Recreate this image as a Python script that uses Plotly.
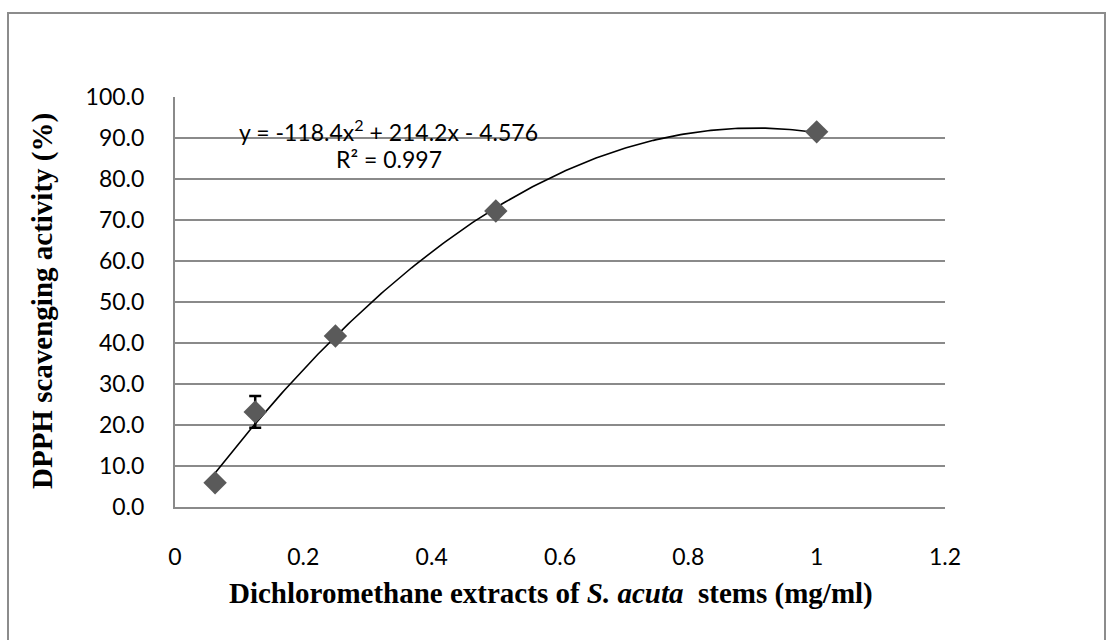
import numpy as np
import plotly.graph_objects as go

# Data
conc = [0.0625, 0.125, 0.25, 0.5, 1.0]
activity = [5.9, 23.2, 41.7, 72.2, 91.5]
err = [0.0, 3.9, 0.0, 0.0, 0.0]
x_ticks = [0, 0.2, 0.4, 0.6, 0.8, 1.0, 1.2]
x_ticktext = ["0", "0.2", "0.4", "0.6", "0.8", "1", "1.2"]
y_ticks = [0, 10, 20, 30, 40, 50, 60, 70, 80, 90, 100]

W, H = 1114, 640
L, R, T, B = 175, 945, 97, 507

coef = np.polyfit(conc, activity, 2)
xf = np.linspace(min(conc), max(conc), 200)
yf = np.polyval(coef, xf)

fig = go.Figure()
fig.add_trace(go.Scatter(x=xf, y=yf, mode="lines",
                         line=dict(color="black", width=1.6), hoverinfo="skip", showlegend=False))
fig.add_trace(go.Scatter(x=conc, y=activity, mode="markers",
                         marker=dict(symbol="diamond", size=18, color="#5a5a5a"),
                         error_y=dict(type="data", array=err, visible=True, color="black",
                                      thickness=2.5, width=6),
                         showlegend=False))

def px(xp):
    return (xp - L) / (R - L)

def py(yp):
    return (B - yp) / (B - T)

grid = "#8a8a8a"
tickfont = dict(family="Lato", size=23, color="black")
fig.update_layout(
    width=W, height=H,
    margin=dict(l=L, r=W - R, t=T, b=H - B, autoexpand=False),
    plot_bgcolor="white", paper_bgcolor="white",
    font=dict(family="Lato", size=23, color="black"),
    xaxis=dict(range=[0, 1.2], tickvals=x_ticks, ticktext=x_ticktext, showgrid=False,
               zeroline=False, showline=True, linecolor=grid, linewidth=2,
               ticks="outside", ticklen=28,
               tickcolor="rgba(0,0,0,0)", tickfont=tickfont),
    yaxis=dict(range=[0, 100], tickvals=y_ticks, tickformat=".1f", showgrid=True,
               gridcolor=grid, gridwidth=2, zeroline=False, showline=True,
               linecolor=grid, linewidth=2, ticks="outside", ticklen=24,
               tickcolor="rgba(0,0,0,0)", tickfont=tickfont),
    shapes=[dict(type="rect", xref="paper", yref="paper",
                 x0=px(8), x1=px(1105), y0=py(700), y1=py(13),
                 line=dict(color="#8c8c8c", width=2), layer="below")],
    annotations=[
        dict(text="y = -118.4x<sup>2</sup> + 214.2x - 4.576", xref="paper", yref="paper",
             x=px(388), y=py(130), showarrow=False, xanchor="center", yanchor="middle",
             font=dict(family="Lato", size=23)),
        dict(text="R² = 0.997", xref="paper", yref="paper",
             x=px(389), y=py(159), showarrow=False, xanchor="center", yanchor="middle",
             font=dict(family="Lato", size=23)),
        dict(text="<b>DPPH scavenging activity (%)</b>", xref="paper", yref="paper",
             x=px(42), y=py(301), textangle=-90, showarrow=False,
             xanchor="center", yanchor="middle",
             font=dict(family="Liberation Serif", size=29)),
        dict(text="<b>Dichloromethane extracts of <i>S. acuta</i>  stems (mg/ml)</b>",
             xref="paper", yref="paper", x=px(551), y=py(593), showarrow=False,
             xanchor="center", yanchor="middle",
             font=dict(family="Liberation Serif", size=29)),
    ],
)

fig.write_html("out.html", config={"displayModeBar": False},
               post_script="document.body.style.margin='0';")
